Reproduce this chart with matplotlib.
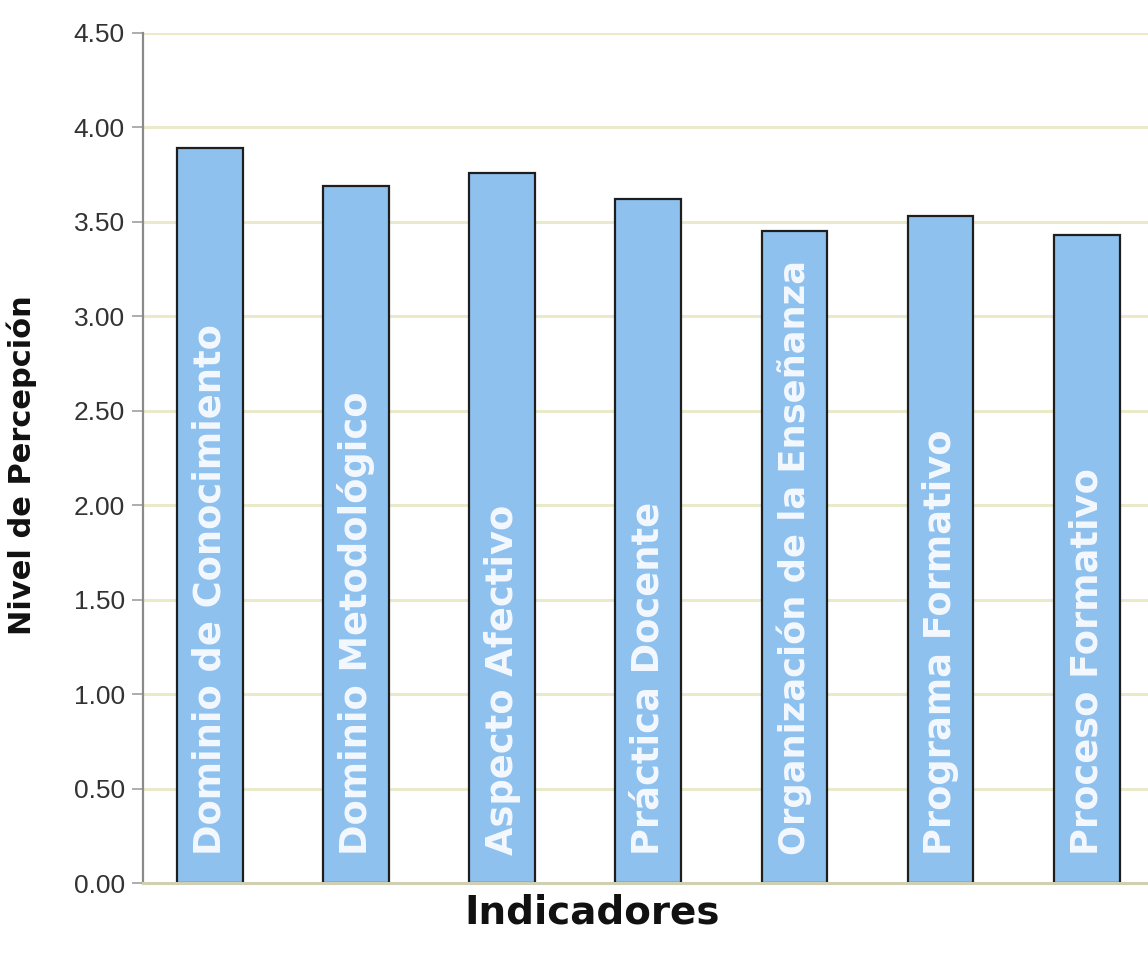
import matplotlib
matplotlib.use("Agg")
import matplotlib.pyplot as plt
import numpy as np

# Perception level per indicator
indicadores = [
    "Dominio de Conocimiento",
    "Dominio Metodológico",
    "Aspecto Afectivo",
    "Práctica Docente",
    "Organización de la Enseñanza",
    "Programa Formativo",
    "Proceso Formativo",
]
nivel = [3.89, 3.69, 3.76, 3.62, 3.45, 3.53, 3.43]
y_ticks = [0.0, 0.5, 1.0, 1.5, 2.0, 2.5, 3.0, 3.5, 4.0, 4.5]

W, H = 1148, 955
fig = plt.figure(figsize=(W / 100, H / 100), dpi=100)
fig.patch.set_facecolor("white")

left_px, right_px, top_px, bottom_px = 143, 1148, 33, 883
ax = fig.add_axes([left_px / W, 1 - bottom_px / H,
                   (right_px - left_px) / W, (bottom_px - top_px) / H])

x = np.arange(len(indicadores))
grid_color = "#eaeacb"
for t in y_ticks[1:]:
    ax.axhline(t, color=grid_color, lw=2.2, zorder=0)

ax.bar(x, nivel, width=0.45, color="#8fc1ef", edgecolor="#1e1e1e",
       linewidth=1.6, zorder=2)

ax.set_xlim(-0.459, 6.42)
ax.set_ylim(0, 4.5)
ax.set_yticks(y_ticks)
ax.set_yticklabels([f"{v:.2f}" for v in y_ticks],
                   family=["Liberation Sans Narrow", "Liberation Sans"],
                   fontsize=19, color="#333333")
ax.set_xticks([])
ax.tick_params(axis="y", direction="out", length=8, width=1.2,
               color="#a0a0a0", pad=5)

for s in ["top", "right"]:
    ax.spines[s].set_visible(False)
ax.spines["left"].set_color("#8a8a8a")
ax.spines["left"].set_linewidth(1.6)
ax.spines["bottom"].set_color("#cfcfb4")
ax.spines["bottom"].set_linewidth(2.2)

fig.text(22 / W, 1 - 465 / H, "Nivel de Percepción", rotation=90,
         ha="center", va="center", fontsize=22, fontweight="bold",
         family="DejaVu Sans", color="#111111")
fig.text(592 / W, 1 - 912 / H, "Indicadores", ha="center", va="center",
         fontsize=28, fontweight="bold", family="DejaVu Sans",
         color="#111111")

# White labels written inside each bar, sized to fill the bar's length
fig.canvas.draw()
renderer = fig.canvas.get_renderer()
y_start, y_end = 0.15, 3.30
bar_px = ax.transData.transform([(0, 0), (0.45, 0)])
bar_w_px = bar_px[1, 0] - bar_px[0, 0]
span = (ax.transData.transform((0, y_end))[1]
        - ax.transData.transform((0, y_start))[1])
for xi, name in zip(x, indicadores):
    t = ax.text(xi, y_start, name, rotation=90, ha="left", va="center",
                fontsize=20, fontweight="bold", family="DejaVu Sans",
                color="#f4f8ff", zorder=3, rotation_mode="anchor")
    ext = t.get_window_extent(renderer)
    size = 20 * span / ext.height
    size = min(size, 0.56 * bar_w_px * 72 / 100)
    t.set_fontsize(size)

fig.savefig("out.png", dpi=100, facecolor="white")
